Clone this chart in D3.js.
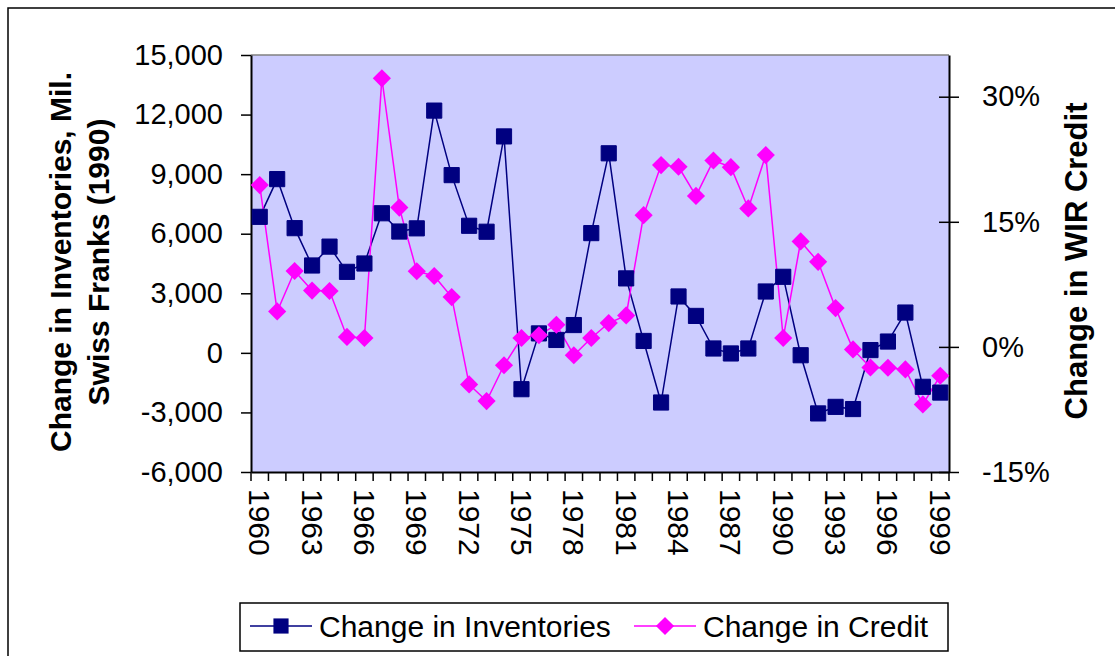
<!DOCTYPE html>
<html>
<head>
<meta charset="utf-8">
<script src="https://cdn.jsdelivr.net/npm/d3@7"></script>
<style>
  body { margin: 0; background: #fff; }
  text { font-family: "Liberation Sans", Arial, sans-serif; }
</style>
</head>
<body>
<script>
var years = d3.range(1960, 2000);
var inventories = [6850, 8750, 6280, 4400, 5350, 4080, 4500, 7030, 6110, 6270,
                   12200, 8950, 6400, 6100, 10900, -1830, 980, 650, 1400, 6030,
                   10050, 3750, 600, -2500, 2840, 1860, 220, -30, 220, 3090,
                   3830, -120, -3050, -2720, -2830, 140, 570, 2030, -1710, -2000];
var credit = [19.4, 4.25, 9.1, 6.75, 6.7, 1.2, 1.07, 32.2, 16.7, 9.07,
              8.5, 5.97, -4.5, -6.5, -2.2, 1.07, 1.4, 2.66, -1.0, 1.07,
              2.86, 3.77, 15.8, 21.8, 21.6, 18.1, 22.35, 21.55, 16.6, 23.0,
              1.07, 12.65, 10.2, 4.65, -0.3, -2.47, -2.5, -2.7, -6.9, -3.46];
var leftTicks = [-6000, -3000, 0, 3000, 6000, 9000, 12000, 15000];
var rightTicks = [-15, 0, 15, 30];
var yearLabels = years.filter(function(d) { return (d - 1960) % 3 === 0; });

var W = 1115, H = 656;
var L = 251, R = 949, T = 55, B = 472;
var FS = 29;

var svg = d3.select("body").append("svg").attr("width", W).attr("height", H);

// outer frame (runs off the picture on the right and bottom)
svg.append("rect").attr("x", 8).attr("y", 8).attr("width", 1200).attr("height", 700)
  .attr("fill", "none").attr("stroke", "#000").attr("stroke-width", 1.5);

var x = d3.scaleBand().domain(years).range([L, R]);
var yL = d3.scaleLinear().domain([-6000, 15000]).range([B, T]);
var yR = d3.scaleLinear().domain([-15, 35]).range([B, T]);

svg.append("rect").attr("x", L).attr("y", T).attr("width", R - L).attr("height", B - T)
  .attr("fill", "#ccccff");
svg.append("line").attr("x1", L).attr("x2", R).attr("y1", T).attr("y2", T)
  .attr("stroke", "#808080").attr("stroke-width", 1.5);

var fmt = function(d) { return d3.format(",")(d).replace("\u2212", "-"); };
var axL = svg.append("g").attr("transform", "translate(" + L + ",0)")
  .call(d3.axisLeft(yL).tickValues(leftTicks).tickFormat(fmt).tickSizeInner(10).tickSizeOuter(0).tickPadding(18));
var axR = svg.append("g").attr("transform", "translate(" + R + ",0)")
  .call(d3.axisRight(yR).tickValues(rightTicks).tickFormat(function(d) { return String(d).replace("\u2212", "-") + "%"; })
    .tickSizeInner(10).tickSizeOuter(0).tickPadding(23));
// right ticks cross the axis
axR.selectAll(".tick line").attr("x1", -10);

var axB = svg.append("g").attr("transform", "translate(0," + B + ")")
  .call(d3.axisBottom(x).tickValues([]).tickSizeOuter(0));
// category boundary ticks
svg.append("g").selectAll("line").data(d3.range(years.length + 1)).enter().append("line")
  .attr("x1", function(i) { return L + i * x.step(); })
  .attr("x2", function(i) { return L + i * x.step(); })
  .attr("y1", B).attr("y2", B + 9)
  .attr("stroke", "#000").attr("stroke-width", 1.5);

[axL, axR, axB].forEach(function(a) {
  a.select(".domain").attr("stroke", "#000").attr("stroke-width", 2);
  a.selectAll(".tick line").attr("stroke", "#000").attr("stroke-width", 1.5);
  a.selectAll("text").attr("font-size", FS).attr("fill", "#000")
    .attr("font-family", "Liberation Sans, Arial, sans-serif");
});

svg.append("g").selectAll("text").data(yearLabels).enter().append("text")
  .attr("transform", function(d) {
    return "translate(" + (x(d) + x.bandwidth() / 2) + "," + (B + 17) + ") rotate(90)";
  })
  .attr("dy", "0.35em")
  .attr("font-size", 30)
  .text(function(d) { return d; });

// axis titles
svg.append("text").attr("transform", "translate(71,262) rotate(-90)")
  .attr("text-anchor", "middle").attr("font-size", 30).attr("font-weight", "bold")
  .text("Change in Inventories, Mil.");
svg.append("text").attr("transform", "translate(109,262) rotate(-90)")
  .attr("text-anchor", "middle").attr("font-size", 30).attr("font-weight", "bold")
  .text("Swiss Franks (1990)");
svg.append("text").attr("transform", "translate(1087,261) rotate(-90)")
  .attr("text-anchor", "middle").attr("font-size", 31).attr("font-weight", "bold")
  .text("Change in WIR Credit");

var cx = function(d, i) { return x(years[i]) + x.bandwidth() / 2; };

var lineInv = d3.line().x(cx).y(function(d) { return yL(d); });
var lineCred = d3.line().x(cx).y(function(d) { return yR(d); });

svg.append("path").datum(inventories).attr("d", lineInv)
  .attr("fill", "none").attr("stroke", "#000080").attr("stroke-width", 1.5);
svg.append("path").datum(credit).attr("d", lineCred)
  .attr("fill", "none").attr("stroke", "#ff00ff").attr("stroke-width", 1.5);

var sq = d3.symbol().type(d3.symbolSquare).size(230);
var dm = d3.symbol().type(d3.symbolSquare).size(165); // rotated 45deg below

svg.append("g").selectAll("path").data(inventories).enter().append("path")
  .attr("d", sq)
  .attr("transform", function(d, i) { return "translate(" + cx(d, i) + "," + yL(d) + ")"; })
  .attr("fill", "#000080").attr("stroke", "#000080").attr("stroke-width", 1);

svg.append("g").selectAll("path").data(credit).enter().append("path")
  .attr("d", dm)
  .attr("transform", function(d, i) { return "translate(" + cx(d, i) + "," + yR(d) + ") rotate(45)"; })
  .attr("fill", "#ff00ff");

// legend
var lg = svg.append("g");
lg.append("rect").attr("x", 240).attr("y", 603).attr("width", 708).attr("height", 48)
  .attr("fill", "#fff").attr("stroke", "#000").attr("stroke-width", 1.5);
var items = [
  { name: "Change in Inventories", color: "#000080", sym: sq, rot: 0, lx: 250, tx: 319 },
  { name: "Change in Credit", color: "#ff00ff", sym: dm, rot: 45, lx: 634, tx: 703 }
];
items.forEach(function(it) {
  lg.append("line").attr("x1", it.lx).attr("x2", it.lx + 62).attr("y1", 626).attr("y2", 626)
    .attr("stroke", it.color).attr("stroke-width", 1.5);
  lg.append("path").attr("d", it.sym)
    .attr("transform", "translate(" + (it.lx + 31) + ",626) rotate(" + it.rot + ")").attr("fill", it.color);
  lg.append("text").attr("x", it.tx).attr("y", 626).attr("dy", "0.35em")
    .attr("font-size", 30).text(it.name);
});
</script>
</body>
</html>
